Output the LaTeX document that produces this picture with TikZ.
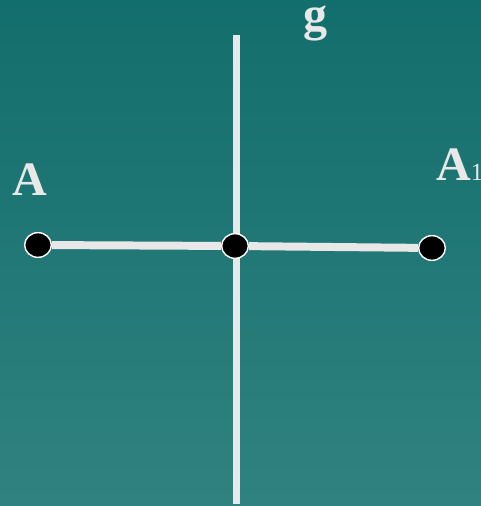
\documentclass[tikz,border=0pt]{standalone}
\usepackage{fontspec}
\setmainfont{Liberation Serif}
\usetikzlibrary{positioning,shapes.geometric}
\definecolor{bgtop}{RGB}{18,110,108}
\definecolor{bgbot}{RGB}{48,130,128}
\definecolor{linegray}{RGB}{232,232,232}

\begin{document}
\begin{tikzpicture}[x=0.03cm,y=-0.03cm,
  dot/.style={ellipse,draw=white,line width=1.2pt,fill=black,minimum width=0.8cm,minimum height=0.74cm,inner sep=0pt},
  bar/.style={draw=linegray,line width=6.8pt},
  lbl/.style={text=linegray,inner sep=0pt,font=\fontsize{41}{41}\selectfont\bfseries}]
  % background
  \shade[top color=bgtop,bottom color=bgbot] (0,0) rectangle (481,506);
  \useasboundingbox (0,0) rectangle (481,506);
  % axis g
  \coordinate (gtop) at (236.5,35);
  \coordinate (gbot) at (236.5,504);
  \draw[bar] (gtop) -- (gbot);
  % points
  \node[dot] (A)  at (38,245) {};
  \node[dot] (O)  at (235,246) {};
  \node[dot] (A1) at (432,248) {};
  \draw[bar] (A) -- (O) -- (A1);
  % labels
  \node[lbl,anchor=base west] (lA)  at (12,195) {A};
  \node[lbl,anchor=base west] (lA1) at (436,180) {A{\fontsize{21}{21}\selectfont\mdseries 1}};
  \node[lbl,anchor=base west] (lg)  at (303,31) {g};
\end{tikzpicture}
\end{document}
